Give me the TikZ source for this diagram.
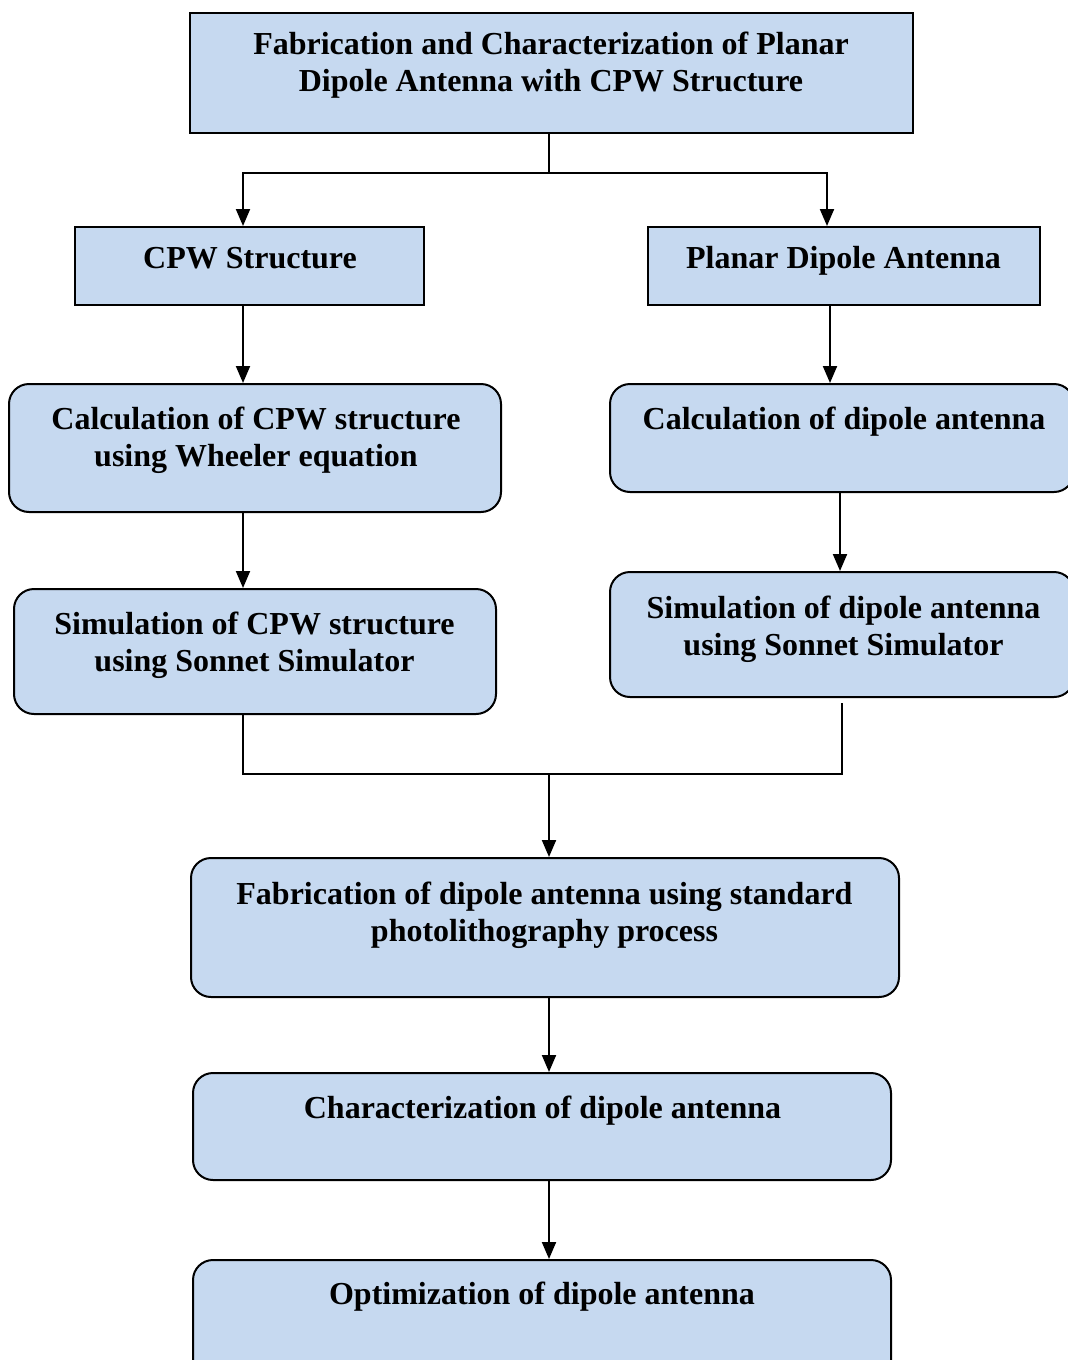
\documentclass[tikz,border=0pt]{standalone}
\usepackage{fontspec}
\setmainfont{Liberation Serif}
\usetikzlibrary{positioning, arrows.meta, fit}

\definecolor{boxblue}{HTML}{C6D9F0}

\begin{document}
\begin{tikzpicture}[x=0.5pt, y=-0.5pt, line width=1pt,
    box/.style={draw, fill=boxblue, inner sep=0pt},
    rbox/.style={box, rounded corners=10pt},
    lbl/.style={font=\bfseries\fontsize{16}{18.5}\selectfont, align=center, anchor=base, inner sep=0pt},
    arr/.style={-{Triangle[width=7pt,length=8.5pt]}}]
    \useasboundingbox (0,0) rectangle (1068,1360);

    % kotak
    \node[box, fit={(190,13) (913,133)}] (title) {};
    \node[box, fit={(75,227) (424,305)}] (cpw) {};
    \node[box, fit={(648,227) (1040,305)}] (planar) {};
    \node[rbox, fit={(9,384) (501,512)}] (calccpw) {};
    \node[rbox, fit={(610,384) (1074,492)}] (calcdip) {};
    \node[rbox, fit={(14,589) (496,714)}] (simcpw) {};
    \node[rbox, fit={(610,572) (1074,697)}] (simdip) {};
    \node[rbox, fit={(191,858) (899,997)}] (fab) {};
    \node[rbox, fit={(193,1073) (891,1180)}] (charbox) {};
    \node[rbox, fit={(193,1260) (891,1380)}] (opt) {};

    % teks (anchor base = baris terakhir)
    \node[lbl] (titletxt) at (551,91) {Fabrication and Characterization of Planar\\Dipole Antenna with CPW Structure};
    \node[lbl] (cpwtxt) at (250,268) {CPW Structure};
    \node[lbl] (planartxt) at (843.5,268) {Planar Dipole Antenna};
    \node[lbl] (calccpwtxt) at (256,466) {Calculation of CPW structure\\using Wheeler equation};
    \node[lbl] (calcdiptxt) at (844,429) {Calculation of dipole antenna};
    \node[lbl] (simcpwtxt) at (254.5,671) {Simulation of CPW structure\\using Sonnet Simulator};
    \node[lbl] (simdiptxt) at (843.5,655) {Simulation of dipole antenna\\using Sonnet Simulator};
    \node[lbl] (fabtxt) at (544.5,941) {Fabrication of dipole antenna using standard\\photolithography process};
    \node[lbl] (chartxt) at (542.5,1118) {Characterization of dipole antenna};
    \node[lbl] (opttxt) at (542,1304) {Optimization of dipole antenna};

    % titik bantu
    \coordinate (split) at (549,173);
    \coordinate (merge) at (549,774);
    \coordinate (lcol) at (243,0);
    \coordinate (rcola) at (827,0);
    \coordinate (rcolb) at (830,0);
    \coordinate (rcolc) at (840,0);
    \coordinate (rcold) at (842,0);

    % panah
    \draw (title.south -| split) -- (split);
    \draw[arr] (split) -| (cpw.north -| lcol);
    \draw[arr] (split) -| (planar.north -| rcola);
    \draw[arr] (cpw.south -| lcol) -- (calccpw.north -| lcol);
    \draw[arr] (planar.south -| rcolb) -- (calcdip.north -| rcolb);
    \draw[arr] (calccpw.south -| lcol) -- (simcpw.north -| lcol);
    \draw[arr] (calcdip.south -| rcolc) -- (simdip.north -| rcolc);
    \draw (simcpw.south -| lcol) |- (merge);
    \draw ([yshift=-2.5pt]simdip.south -| rcold) |- (merge);
    \draw[arr] (merge) -- (fab.north -| merge);
    \draw[arr] (fab.south -| merge) -- (charbox.north -| merge);
    \draw[arr] (charbox.south -| merge) -- (opt.north -| merge);
\end{tikzpicture}
\end{document}
